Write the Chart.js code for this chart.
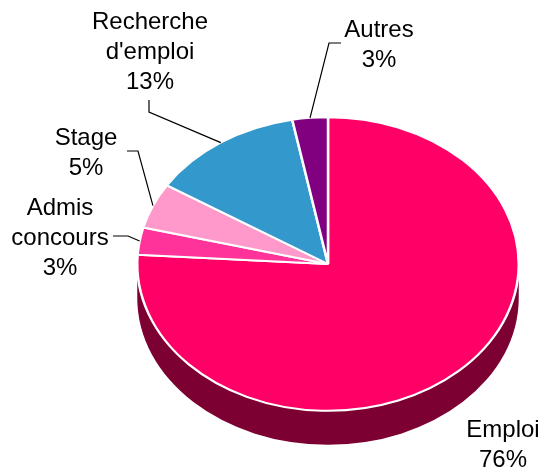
<!DOCTYPE html>
<html>
<head>
<meta charset="utf-8">
<style>
  html, body { margin: 0; padding: 0; background: #fff; }
  #wrap { width: 541px; height: 470px; }
</style>
<script src="https://cdn.jsdelivr.net/npm/chart.js@4"></script>
</head>
<body>
<div id="wrap"><canvas id="pieChart" width="541" height="470"></canvas></div>
<script>
const categories = ['Emploi', 'Admis concours', 'Stage', "Recherche d'emploi", 'Autres'];
const values = [76, 3, 5, 13, 3];
const colors = ['#ff0066', '#ff3399', '#ff99cc', '#3399cc', '#800080'];
const labelLines = [['Emploi', '76%'], ['Admis', 'concours', '3%'], ['Stage', '5%'], ['Recherche', "d'emploi", '13%'], ['Autres', '3%']];

const sideColor = '#7d0032';
const squash = 147 / 191;
const depth = 34;
const labelFont = '24px "Liberation Sans", Arial, sans-serif';
const lineGap = 30;
// centre of the first text line of each label
const labelPos = [[503, 430], [60, 208], [86, 138], [150, 22], [379, 30]];
// where the leader leaves the label, then its elbow (no leader for Emploi)
const leaderPts = [null, [[113, 236], [128, 236]], [[127, 151], [138, 151]], [[149, 100], [149, 112]], [[341, 43], [329, 43]]];

// pie is flattened and given a side wall, chart.js has no 3d pie
const tiltPlugin = {
  id: 'tilt',
  beforeDatasetsDraw(chart) {
    const ctx = chart.ctx;
    const arc = chart.getDatasetMeta(0).data[0];
    const cx = arc.x, cy = arc.y, r = arc.outerRadius;
    ctx.save();
    ctx.fillStyle = sideColor;
    ctx.beginPath();
    ctx.ellipse(cx, cy + depth, r, r * squash, 0, 0, Math.PI);
    ctx.lineTo(cx - r, cy);
    ctx.lineTo(cx + r, cy);
    ctx.closePath();
    ctx.fill();
    ctx.restore();
    ctx.save();
    ctx.translate(0, cy);
    ctx.scale(1, squash);
    ctx.translate(0, -cy);
  },
  afterDatasetsDraw(chart) {
    chart.ctx.restore();
  }
};

const labelPlugin = {
  id: 'pieLabels',
  afterDraw(chart) {
    const ctx = chart.ctx;
    const arcs = chart.getDatasetMeta(0).data;
    ctx.save();
    ctx.strokeStyle = '#000';
    ctx.lineWidth = 1.2;
    arcs.forEach((arc, i) => {
      if (!leaderPts[i]) return;
      // leader ends on the rim at the middle of the slice
      const mid = (arc.startAngle + arc.endAngle) / 2;
      const ex = arc.x + arc.outerRadius * Math.cos(mid);
      const ey = arc.y + arc.outerRadius * squash * Math.sin(mid);
      ctx.beginPath();
      leaderPts[i].forEach((p, j) => j ? ctx.lineTo(p[0], p[1]) : ctx.moveTo(p[0], p[1]));
      ctx.lineTo(ex, ey);
      ctx.stroke();
    });
    ctx.fillStyle = '#000';
    ctx.font = labelFont;
    ctx.textAlign = 'center';
    ctx.textBaseline = 'middle';
    labelLines.forEach((lines, i) => {
      lines.forEach((txt, j) => ctx.fillText(txt, labelPos[i][0], labelPos[i][1] + j * lineGap));
    });
    ctx.restore();
  }
};

new Chart(document.getElementById('pieChart'), {
  type: 'pie',
  data: {
    labels: categories,
    datasets: [{
      data: values,
      backgroundColor: colors,
      borderColor: '#fff',
      borderWidth: 2.5
    }]
  },
  options: {
    responsive: false,
    animation: false,
    layout: { padding: { left: 136, right: 21, top: 72, bottom: 14 } },
    plugins: { legend: { display: false }, tooltip: { enabled: false } }
  },
  plugins: [tiltPlugin, labelPlugin]
});
</script>
</body>
</html>
